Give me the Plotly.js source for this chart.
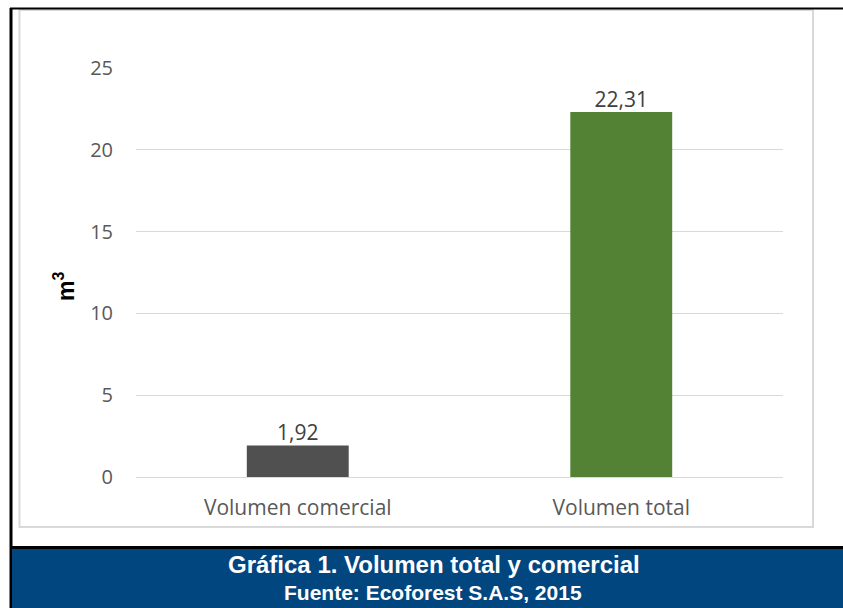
<!DOCTYPE html>
<html>
<head>
<meta charset="utf-8">
<script src="https://cdn.plot.ly/plotly-3.0.1.min.js"></script>
<style>
  html, body { margin: 0; padding: 0; background: #ffffff; }
  #chart { width: 843px; height: 608px; }
</style>
</head>
<body>
<div id="chart"></div>
<script>
// Volume categories and values (m³)
const categories = ['Volumen comercial', 'Volumen total'];
const volumes = [1.92, 22.31];
const barColors = ['#505050', '#548235'];
const yTicks = [0, 5, 10, 15, 20, 25];

const W = 843, H = 608;
const M = { l: 136, r: 60, t: 68, b: 131 };
const plotW = W - M.l - M.r;
const plotH = H - M.t - M.b;
// pixel -> paper coordinate helpers for frame decorations
const px = x => (x - M.l) / plotW;
const py = y => (H - M.b - y) / plotH;

const bars = {
  type: 'bar',
  x: categories,
  y: volumes,
  marker: { color: barColors },
  hoverinfo: 'skip'
};

// value labels sitting just above each bar
const labels = {
  type: 'scatter',
  mode: 'text',
  x: categories,
  y: volumes,
  texttemplate: '%{y:.2f}',
  textposition: 'top center',
  cliponaxis: false,
  textfont: { family: 'Open Sans, sans-serif', size: 21, color: '#404040' },
  hoverinfo: 'skip'
};

const layout = {
  width: W,
  height: H,
  margin: M,
  separators: ',.',
  paper_bgcolor: '#ffffff',
  plot_bgcolor: '#ffffff',
  showlegend: false,
  bargap: 0.685,
  font: { family: 'Open Sans, sans-serif', color: '#595959' },
  xaxis: {
    type: 'category',
    showgrid: false,
    showline: true,
    linecolor: '#d9d9d9',
    linewidth: 1,
    ticks: '',
    ticklabelstandoff: 12,
    tickfont: { size: 21, color: '#595959' }
  },
  yaxis: {
    range: [0, 25],
    tickvals: yTicks,
    showgrid: true,
    gridcolor: '#d9d9d9',
    gridwidth: 1,
    zeroline: false,
    showline: false,
    ticks: '',
    ticklabelstandoff: 22,
    tickfont: { size: 20, color: '#595959' }
  },
  shapes: [
    // outer black frame lines
    { type: 'line', xref: 'paper', yref: 'paper', x0: px(10), x1: px(843), y0: py(8.5), y1: py(8.5), line: { color: '#000000', width: 2 } },
    { type: 'line', xref: 'paper', yref: 'paper', x0: px(11), x1: px(11), y0: py(8), y1: py(608), line: { color: '#000000', width: 3 } },
    // light chart border
    { type: 'rect', xref: 'paper', yref: 'paper', x0: px(19.5), x1: px(813), y0: py(10), y1: py(527), line: { color: '#d9d9d9', width: 2 }, layer: 'below' },
    // caption band
    { type: 'rect', xref: 'paper', yref: 'paper', x0: px(12), x1: px(843), y0: py(548.5), y1: py(608), fillcolor: '#02467F', line: { width: 0 } },
    { type: 'line', xref: 'paper', yref: 'paper', x0: px(10), x1: px(843), y0: py(547.5), y1: py(547.5), line: { color: '#000000', width: 3 } }
  ],
  annotations: [
    {
      xref: 'paper', yref: 'paper', x: px(64), y: py(287), xanchor: 'center', yanchor: 'middle',
      text: '<b>m<sup>3</sup></b>', textangle: -90, showarrow: false,
      font: { family: 'Liberation Sans, Arial, sans-serif', size: 23, color: '#000000' }
    },
    {
      xref: 'paper', yref: 'paper', x: px(434), y: py(564), xanchor: 'center', yanchor: 'middle',
      text: '<b>Gráfica 1. Volumen total y comercial</b>', showarrow: false,
      font: { family: 'Liberation Sans, Arial, sans-serif', size: 24, color: '#ffffff' }
    },
    {
      xref: 'paper', yref: 'paper', x: px(433), y: py(592), xanchor: 'center', yanchor: 'middle',
      text: '<b>Fuente: Ecoforest S.A.S, 2015</b>', showarrow: false,
      font: { family: 'Liberation Sans, Arial, sans-serif', size: 21, color: '#ffffff' }
    }
  ]
};

Plotly.newPlot('chart', [bars, labels], layout, { displayModeBar: false, staticPlot: true });
</script>
</body>
</html>
